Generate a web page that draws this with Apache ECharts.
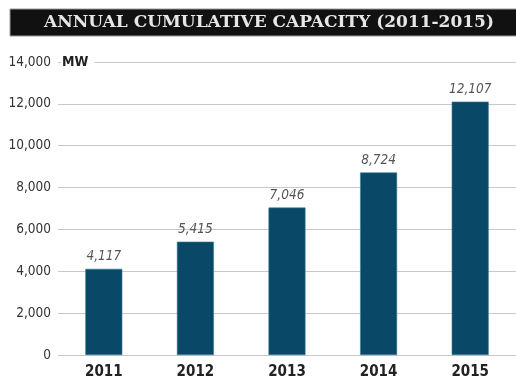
<!DOCTYPE html>
<html>
<head>
<meta charset="utf-8">
<style>
  html, body { margin: 0; padding: 0; background: #fff; }
  #chart { width: 516px; height: 380px; }
</style>
<script src="https://cdn.jsdelivr.net/npm/echarts@6/dist/echarts.min.js"></script>
</head>
<body>
<div id="chart"></div>
<script>
// Annual cumulative installed capacity, MW
const years = ['2011', '2012', '2013', '2014', '2015'];
const capacityMW = [4117, 5415, 7046, 8724, 12107];
const yTicks = [0, 2000, 4000, 6000, 8000, 10000, 12000, 14000];

const titleText = 'ANNUAL CUMULATIVE CAPACITY (2011-2015)';
const unitText = 'MW';

const narrow = '"Liberation Sans Narrow", "DejaVu Sans Condensed", sans-serif';
const chart = echarts.init(document.getElementById('chart'), null, { renderer: 'canvas' });

chart.setOption({
  animation: false,
  backgroundColor: '#ffffff',
  grid: { left: 58, right: -10, top: 62, bottom: 24, containLabel: false },
  graphic: [
    {
      type: 'rect',
      shape: { x: 10, y: 9, width: 510, height: 27 },
      style: { fill: '#111111', stroke: '#9a9a9a', lineWidth: 1 },
      z: 10
    },
    {
      type: 'text',
      x: 269, y: 23,
      style: {
        text: titleText,
        fill: '#e6e6e6',
        font: 'bold 17px "DejaVu Serif", "Liberation Serif", serif',
        align: 'center',
        verticalAlign: 'middle'
      },
      z: 11
    },
    {
      type: 'text',
      x: 61, y: 62,
      style: {
        text: unitText,
        fill: '#222',
        font: 'bold 14px ' + narrow,
        align: 'left',
        verticalAlign: 'middle',
        backgroundColor: '#fff',
        padding: [2, 6, 2, 1]
      },
      z: 12
    }
  ],
  xAxis: {
    type: 'category',
    data: years,
    axisLine: { show: false },
    axisTick: { show: false },
    axisLabel: {
      color: '#222',
      fontFamily: narrow,
      fontWeight: 'bold',
      fontSize: 15,
      margin: 10
    }
  },
  yAxis: {
    type: 'value',
    min: 0,
    max: 14000,
    interval: 2000,
    axisLine: { show: false },
    axisTick: { show: false },
    axisLabel: {
      color: '#333',
      fontFamily: narrow,
      fontSize: 13.5,
      margin: 7,
      formatter: v => v.toLocaleString('en-US')
    },
    splitLine: { lineStyle: { color: '#c8c8c8', width: 1.2 } }
  },
  series: [
    {
      type: 'bar',
      data: capacityMW,
      barWidth: 37,
      itemStyle: { color: '#0a4867', borderColor: '#3b7d96', borderWidth: 0.6 },
      label: {
        show: true,
        position: 'top',
        distance: 5,
        color: '#555',
        fontFamily: narrow,
        fontStyle: 'italic',
        fontSize: 13.5,
        formatter: p => p.value.toLocaleString('en-US')
      }
    }
  ]
});
</script>
</body>
</html>
